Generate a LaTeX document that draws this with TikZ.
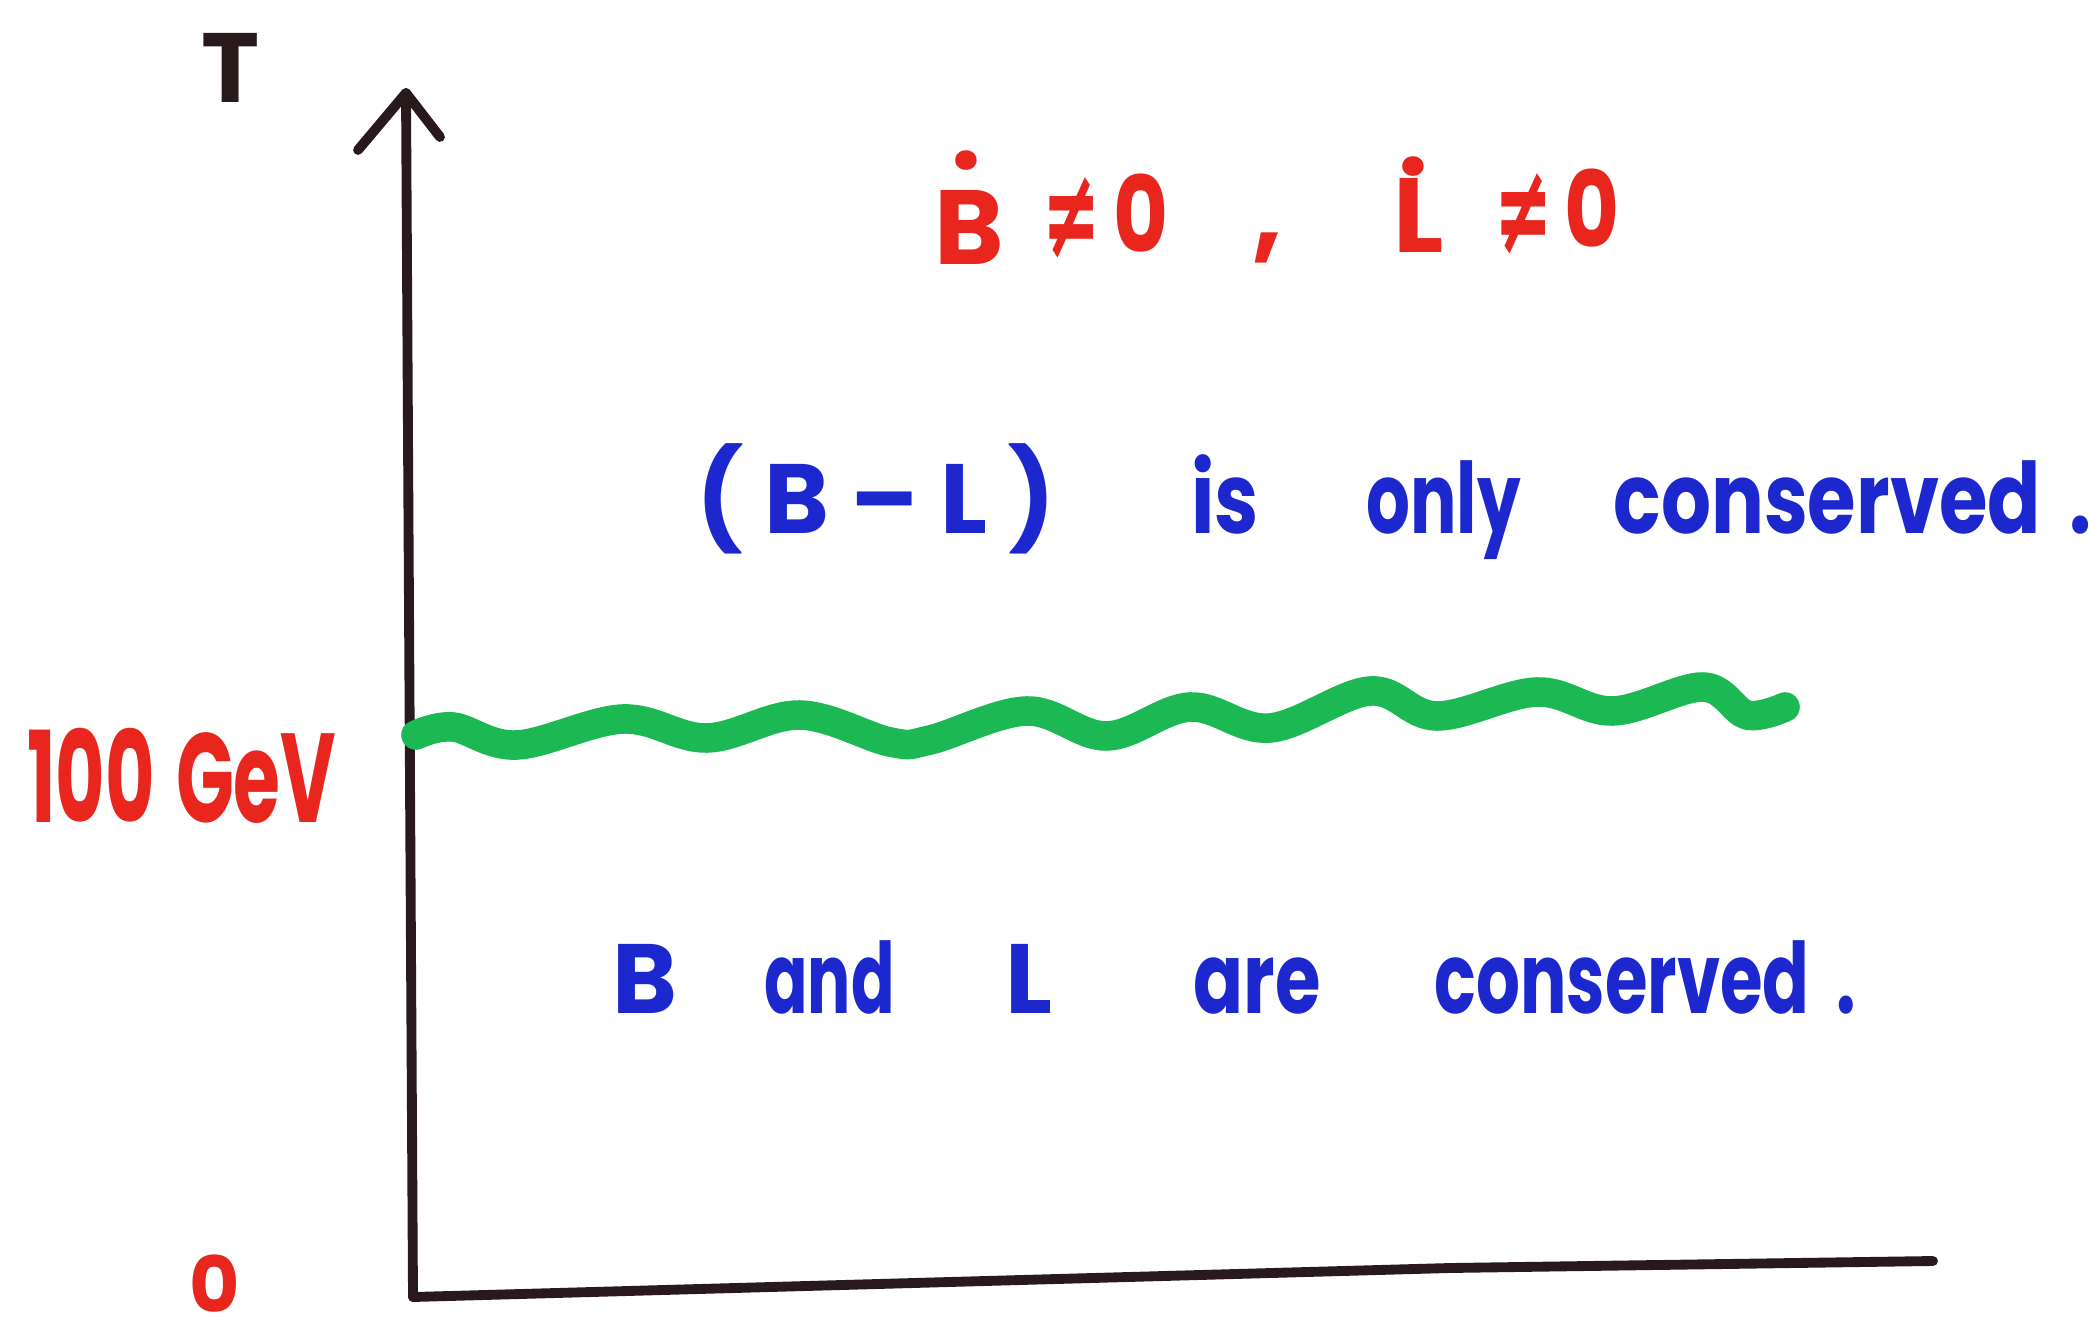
\documentclass[tikz,border=0pt]{standalone}
\usepackage{fontspec}
\setmainfont{Poppins}
\newfontfamily\symf{DejaVu Sans}
\definecolor{inkred}{RGB}{232,38,30}
\definecolor{inkblue}{RGB}{28,40,205}
\definecolor{inkgreen}{RGB}{28,184,84}
\definecolor{inkblack}{RGB}{40,26,28}
\tikzset{
  bluebase/.style={text=inkblue, font=\bfseries\fontsize{28}{30}\selectfont, anchor=base west, inner sep=0pt},
  bluetxt/.style={bluebase, xscale=0.7},
  redtxt/.style={text=inkred, font=\bfseries\fontsize{30}{32}\selectfont, anchor=base west, inner sep=0pt},
  reddot/.style={text=inkred, font=\bfseries\fontsize{30}{32}\selectfont, anchor=base, inner sep=0pt},
  redneq/.style={text=inkred, font=\symf\bfseries\fontsize{36}{38}\selectfont, anchor=base west, inner sep=0pt, xscale=0.55},
  axisline/.style={draw=inkblack, line width=2.8pt, line cap=round, line join=round},
  wave/.style={draw=inkgreen, line width=8.4pt, line cap=round, line join=round},
}
\begin{document}
\begin{tikzpicture}[x=0.01cm, y=-0.01cm]
\useasboundingbox[fill=white] (0,0) rectangle (2089,1325);

% axes
\coordinate (origin) at (413,1297);
\coordinate (ytip) at (406,93);
\coordinate (xbend) at (1450,1268);
\coordinate (xend) at (1933,1261);
\coordinate (wingl) at (358,150);
\coordinate (wingr) at (440,137);
\draw[axisline] (origin) -- (ytip);
\draw[axisline] (wingl) -- (ytip) -- (wingr);
\draw[axisline] (origin) -- (xbend) -- (xend);

% axis labels
\node[text=inkblack, font=\bfseries\fontsize{28}{30}\selectfont, anchor=base, inner sep=0pt] (tlab) at (231,103) {T};
\node[text=inkred, font=\bfseries\fontsize{22}{24}\selectfont, inner sep=0pt] (zero) at (215,1284) {0};
\node[text=inkred, font=\bfseries\fontsize{36}{38}\selectfont, anchor=base west, inner sep=0pt, xscale=0.6] (gev) at (27,822) {100\hspace{10pt}GeV};

% green wavy transition line
\draw[wave] plot[smooth, tension=0.6] coordinates {
  (416,735) (453,727) (517,745) (623,719) (707,738) (800,715) (890,742) (930,740)
  (1027,711) (1107,736) (1190,707) (1270,728) (1370,691) (1437,716) (1537,692)
  (1613,711) (1703,687) (1747,715) (1785,707)};

% red statement
\node[redtxt] (bletter) at (934,265) {B};
\node[reddot] (bdot) at (966,170) {.};
\node[redneq] (neq1) at (1042,258) {≠};
\node[redtxt, xscale=0.8] (z1) at (1113,253) {0};
\node[redtxt] (comma) at (1252,250) {,};
\node[redtxt] (lletter) at (1393,253) {L};
\node[reddot] (ldot) at (1413,176) {.};
\node[redneq] (neq2) at (1494,254) {≠};
\node[redtxt, xscale=0.8] (z2) at (1564,248) {0};

% blue statement, high T
\node[bluebase] (bml) at (696,533) {(\hspace{6pt}B\hspace{6pt}–\hspace{6pt}L\hspace{6pt})};
\node[bluetxt, xscale=1.15] (is) at (1191,533) {is};
\node[bluetxt] (only) at (1366,533) {only};
\node[bluetxt, xscale=1.14] (cons1) at (1613,533) {conserved\hspace{10pt}.};

% blue statement, low T
\node[bluebase] (b2) at (612,1013) {B};
\node[bluetxt, xscale=0.93] (and) at (764,1013) {and};
\node[bluebase] (l2) at (1005,1013) {L};
\node[bluetxt, xscale=1.07] (are) at (1193,1013) {are};
\node[bluetxt] (cons2) at (1434,1013) {conserved\hspace{11pt}.};
\end{tikzpicture}
\end{document}
